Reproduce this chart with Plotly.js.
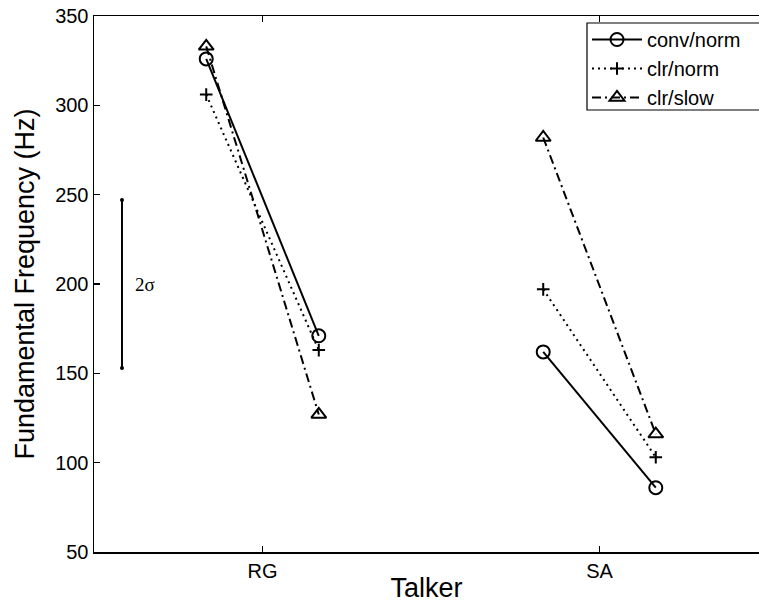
<!DOCTYPE html>
<html>
<head>
<meta charset="utf-8">
<script src="https://cdn.plot.ly/plotly-3.0.1.min.js"></script>
<style>
  html, body { margin: 0; padding: 0; background: #ffffff; }
  #chart { width: 759px; height: 603px; }
</style>
</head>
<body>
<div id="chart"></div>
<script>
// Talkers on the x axis; each has two measurement points (left, right of the tick)
const talkers = ['RG', 'SA'];

// Mean fundamental frequency (Hz), per talker: [left point, right point]
const convNorm = [[326, 171], [162, 86]];
const clrNorm  = [[306, 163], [197, 103]];
const clrSlow  = [[333, 127], [282, 116]];

const seriesNames = ['conv/norm', 'clr/norm', 'clr/slow'];

// Reference bar: centre and one standard deviation (Hz)
const sigmaCenter = 200;
const sigmaValue = 47;

// ---- drawing ----
const PAIR_OFFSET = 0.167;   // horizontal offset of the two points around a talker tick
const SIGMA_X = 0.583;       // x position of the 2-sigma bar
const FONT = 'Liberation Sans, Arial, Helvetica, sans-serif';

function pairTrace(values, name, dash, symbol, size) {
  const x = [], y = [];
  values.forEach((pair, i) => {
    const c = i + 1;
    x.push(c - PAIR_OFFSET, c + PAIR_OFFSET, null);
    y.push(pair[0], pair[1], null);
  });
  return {
    type: 'scatter', mode: 'lines+markers', name: name,
    x: x, y: y, connectgaps: false, cliponaxis: false,
    line: { color: '#000000', width: 2, dash: dash },
    marker: { symbol: symbol, size: size, color: '#000000',
              line: { color: '#000000', width: 2 } }
  };
}

const traces = [
  pairTrace(convNorm, seriesNames[0], 'solid', 'circle-open', 13),
  pairTrace(clrNorm,  seriesNames[1], '2px,4px', 'cross-thin-open', 9),
  pairTrace(clrSlow,  seriesNames[2], '9px,4px,2px,4px', 'triangle-up-open', 13),
  {
    type: 'scatter', mode: 'lines+markers', showlegend: false,
    x: [SIGMA_X, SIGMA_X],
    y: [sigmaCenter - sigmaValue, sigmaCenter + sigmaValue],
    line: { color: '#000000', width: 2 },
    marker: { symbol: 'circle', size: 4, color: '#000000' }
  }
];

const plotLeft = 94, plotTop = 16, plotWidth = 759 - 94, plotHeight = 603 - 16 - 51;
const px2x = p => (p - plotLeft) / plotWidth;
const px2y = p => 1 - (p - plotTop) / plotHeight;

const layout = {
  width: 759, height: 603,
  margin: { l: 94, r: 0, t: 16, b: 51 },
  paper_bgcolor: '#ffffff', plot_bgcolor: '#ffffff',
  font: { family: FONT, color: '#000000', size: 20 },
  showlegend: true,
  xaxis: {
    range: [0.5, 0.5 + plotWidth / 337],
    tickmode: 'array', tickvals: talkers.map((t, i) => i + 1), ticktext: talkers,
    ticks: 'inside', ticklen: 6, tickwidth: 1.2, tickcolor: '#000000',
    showline: true, linecolor: '#000000', linewidth: 1.5, mirror: 'ticks',
    showgrid: false, zeroline: false,
    tickfont: { family: FONT, size: 20, color: '#000000' },
    title: { text: 'Talker', font: { family: FONT, size: 27, color: '#000000' }, standoff: 7 }
  },
  yaxis: {
    range: [50, 350], tick0: 50, dtick: 50,
    ticks: 'inside', ticklen: 6, tickwidth: 1.2, tickcolor: '#000000',
    showline: true, linecolor: '#000000', linewidth: 1.5, mirror: false,
    showgrid: false, zeroline: false,
    tickfont: { family: FONT, size: 20, color: '#000000' },
    title: { text: 'Fundamental Frequency (Hz)', font: { family: FONT, size: 27, color: '#000000' }, standoff: 12 }
  },
  legend: {
    x: px2x(587), y: px2y(20), xanchor: 'left', yanchor: 'top',
    bgcolor: 'rgba(0,0,0,0)', borderwidth: 0,
    itemwidth: 50,
    font: { family: FONT, size: 20, color: '#000000' },
    tracegroupgap: 0
  },
  shapes: [{
    type: 'rect', xref: 'paper', yref: 'paper', layer: 'above',
    x0: px2x(587), x1: 1.1, y0: px2y(110), y1: px2y(23),
    fillcolor: '#ffffff', line: { color: '#000000', width: 1.2 }
  }],
  annotations: [{
    x: SIGMA_X + 0.033, y: sigmaCenter, xref: 'x', yref: 'y',
    text: '2σ', showarrow: false, xanchor: 'left', yanchor: 'middle',
    font: { family: 'Liberation Serif, Times New Roman, serif', size: 19, color: '#000000' }
  }]
};

Plotly.newPlot('chart', traces, layout, { displayModeBar: false, staticPlot: true });
</script>
</body>
</html>
